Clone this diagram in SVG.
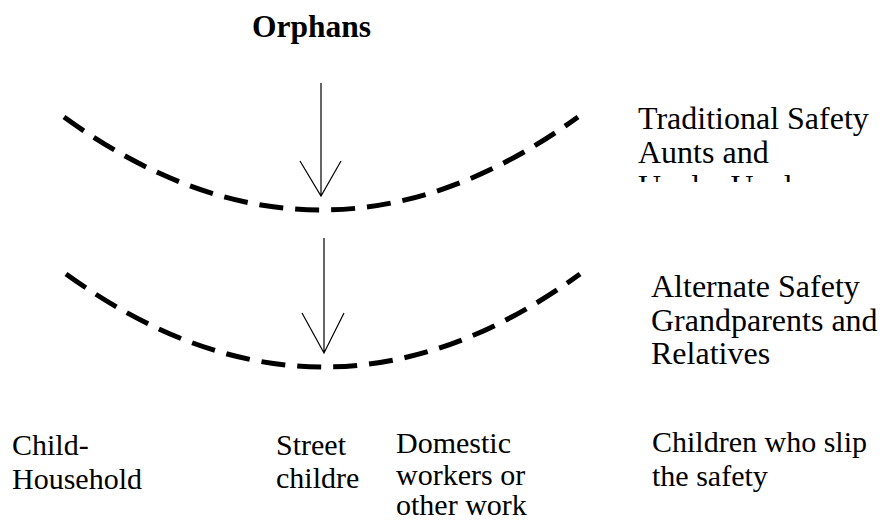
<svg xmlns="http://www.w3.org/2000/svg" width="884" height="523" viewBox="0 0 884 523">
<style>
text{font-family:'Liberation Serif','Tinos','DejaVu Serif',serif;font-size:30px;fill:#000}
.b{font-weight:bold;font-size:31.5px}
.r{font-size:32px}
.arc{fill:none;stroke:#000;stroke-width:5;stroke-dasharray:24 12}
.arr{fill:none;stroke:#000;stroke-width:1.2}
</style>
<defs>
<clipPath id="c1"><rect x="600" y="90" width="284" height="92"/></clipPath>
</defs>
<g id="orphans"><text class="b" x="252" y="37">Orphans</text></g>
<g id="traditional" clip-path="url(#c1)">
<text class="r" x="638" y="129">Traditional Safety</text>
<text class="r" x="638" y="163">Aunts and</text>
<text class="r" x="638" y="197">Uncle, Uncle</text>
</g>
<g id="alternate">
<text class="r" x="651" y="297">Alternate Safety</text>
<text class="r" x="651" y="331">Grandparents and</text>
<text class="r" x="651" y="364">Relatives</text>
</g>
<g id="child-household">
<text x="12" y="455">Child-</text>
<text x="12" y="489">Household</text>
</g>
<g id="street">
<text x="276" y="455">Street</text>
<text x="276" y="488">childre</text>
</g>
<g id="domestic">
<text x="396" y="453">Domestic</text>
<text x="396" y="485">workers or</text>
<text x="396" y="515">other work</text>
</g>
<g id="slip">
<text x="652" y="452">Children who slip</text>
<text x="652" y="486">the safety</text>
</g>
<g id="connectors">
<path class="arc" d="M64,117 Q321,303 578,117"/>
<path class="arc" d="M66,274 Q324,460 580,274"/>
<path class="arr" d="M321,83 V196 M300,161 L321,196 L341,161"/>
<path class="arr" d="M324,238 V353 M302,313 L324,353 L344,313"/>
</g>
</svg>
